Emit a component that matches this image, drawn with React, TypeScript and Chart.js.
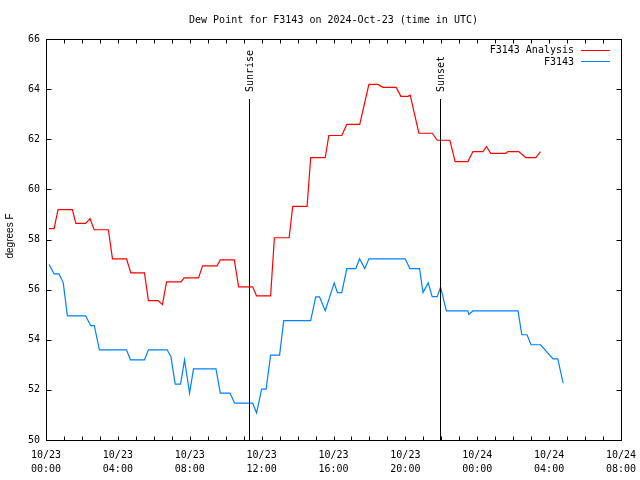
import { useEffect, useRef } from "react";
import { Chart, registerables } from "chart.js";

Chart.register(...registerables);

const MONO = '"DejaVu Sans Mono", monospace';
const SANS = '"Liberation Sans", Arial, sans-serif';

const titleText = "Dew Point for F3143 on 2024-Oct-23 (time in UTC)";
const yAxisTitle = "degrees F";
const analysisLabel = "F3143 Analysis";
const obsLabel = "F3143";

// x values are hours since 10/23 00:00 UTC
const X_MIN = 0;
const X_MAX = 32;
const Y_MIN = 50;
const Y_MAX = 66;
const yTickValues = [50, 52, 54, 56, 58, 60, 62, 64, 66];
const xLabelHours = [0, 4, 8, 12, 16, 20, 24, 28, 32];
const xLabelDates = ["10/23", "10/23", "10/23", "10/23", "10/23", "10/23", "10/24", "10/24", "10/24"];
const xLabelTimes = ["00:00", "04:00", "08:00", "12:00", "16:00", "20:00", "00:00", "04:00", "08:00"];

const sunEventHours = [11.31, 21.94];
const sunEventLabels = ["Sunrise", "Sunset"];

const analysisHours = [0.17, 0.45, 0.67, 1.47, 1.66, 2.21, 2.45, 2.68, 3.47, 3.7, 4.48, 4.72, 5.48, 5.7, 6.24, 6.48, 6.71, 7.51, 7.69, 8.49, 8.71, 9.52, 9.7, 10.48, 10.72, 11.5, 11.72, 12.5, 12.71, 13.53, 13.73, 14.53, 14.73, 15.54, 15.74, 16.46, 16.74, 17.46, 17.97, 18.47, 18.75, 19.49, 19.75, 20.14, 20.27, 20.75, 21.5, 21.77, 22.48, 22.77, 23.48, 23.76, 24.32, 24.51, 24.75, 25.59, 25.71, 26.31, 26.7, 27.26, 27.52];
const analysisValues = [58.43, 58.43, 59.19, 59.19, 58.64, 58.64, 58.83, 58.39, 58.39, 57.23, 57.23, 56.67, 56.67, 55.56, 55.56, 55.4, 56.31, 56.31, 56.47, 56.47, 56.95, 56.95, 57.19, 57.19, 56.11, 56.11, 55.75, 55.75, 58.07, 58.07, 59.32, 59.32, 61.27, 61.27, 62.15, 62.15, 62.59, 62.59, 64.19, 64.19, 64.07, 64.07, 63.71, 63.71, 63.76, 62.24, 62.24, 61.96, 61.96, 61.11, 61.11, 61.51, 61.51, 61.71, 61.44, 61.44, 61.51, 61.51, 61.27, 61.27, 61.51];

const obsHours = [0.17, 0.45, 0.72, 0.96, 1.19, 2.21, 2.49, 2.69, 2.97, 4.48, 4.7, 5.48, 5.7, 6.74, 6.95, 7.19, 7.49, 7.71, 7.99, 8.21, 9.46, 9.7, 10.24, 10.5, 11.5, 11.72, 12.0, 12.25, 12.5, 13.0, 13.23, 14.73, 15.01, 15.22, 15.54, 16.04, 16.22, 16.46, 16.74, 17.24, 17.45, 17.74, 17.97, 19.99, 20.25, 20.79, 20.98, 21.27, 21.49, 21.77, 21.96, 22.28, 23.48, 23.53, 23.76, 26.27, 26.48, 26.77, 26.99, 27.52, 28.22, 28.48, 28.78];
const obsValues = [57.0, 56.63, 56.63, 56.27, 54.95, 54.95, 54.56, 54.56, 53.6, 53.6, 53.2, 53.2, 53.6, 53.6, 53.33, 52.23, 52.23, 53.2, 51.87, 52.84, 52.84, 51.87, 51.87, 51.47, 51.47, 51.08, 52.03, 52.03, 53.39, 53.39, 54.76, 54.76, 55.71, 55.71, 55.16, 56.27, 55.88, 55.88, 56.84, 56.84, 57.23, 56.84, 57.23, 57.23, 56.84, 56.84, 55.88, 56.27, 55.72, 55.72, 56.1, 55.15, 55.15, 55.01, 55.15, 55.15, 54.2, 54.2, 53.8, 53.8, 53.24, 53.24, 52.27];

const RED = "#ff0000";
const BLUE = "#0080ff";

export default function App() {
  const ref = useRef<HTMLCanvasElement>(null);

  useEffect(() => {
    document.body.style.margin = "0";
    const canvas = ref.current;
    if (!canvas) return;

    const overlay = {
      id: "gnuplotOverlay",
      afterDraw(chart: any) {
        const { ctx, chartArea: a, scales } = chart;
        const xs = scales.x;
        const ys = scales.y;
        const L = Math.round(a.left) + 0.5;
        const R = Math.round(a.right) + 0.5;
        const T = Math.round(a.top) + 0.5;
        const B = Math.round(a.bottom) + 0.5;
        const line = (x1: number, y1: number, x2: number, y2: number) => {
          ctx.beginPath();
          ctx.moveTo(x1, y1);
          ctx.lineTo(x2, y2);
          ctx.stroke();
        };
        ctx.save();
        ctx.strokeStyle = "#000";
        ctx.lineWidth = 1;
        // ticks
        for (let h = X_MIN; h <= X_MAX; h += 1) {
          const px = Math.round(xs.getPixelForValue(h)) + 0.5;
          line(px, B, px, B - 4);
          line(px, T, px, T + 4);
        }
        for (const v of yTickValues) {
          const py = Math.round(ys.getPixelForValue(v)) + 0.5;
          line(L, py, L + 5, py);
          line(R, py, R - 5, py);
        }
        // sunrise / sunset
        ctx.fillStyle = "#000";
        ctx.font = `10px ${MONO}`;
        sunEventHours.forEach((h, i) => {
          const px = Math.round(xs.getPixelForValue(h)) + 0.5;
          line(px, 99, px, B);
          ctx.save();
          ctx.translate(px + 1, 92);
          ctx.rotate(-Math.PI / 2);
          ctx.textAlign = "left";
          ctx.textBaseline = "middle";
          ctx.fillText(sunEventLabels[i], 0, 0);
          ctx.restore();
        });
        // border
        ctx.strokeRect(L, T, R - L, B - T);
        // title
        ctx.textAlign = "center";
        ctx.textBaseline = "middle";
        ctx.fillText(titleText, (a.left + a.right) / 2, 20);
        // y axis title
        ctx.save();
        ctx.font = `10px ${SANS}`;
        ctx.translate(10, 236);
        ctx.rotate(-Math.PI / 2);
        ctx.fillText(yAxisTitle, 0, 0);
        ctx.restore();
        // legend
        ctx.textAlign = "right";
        ctx.fillText(analysisLabel, 574, 50);
        ctx.fillText(obsLabel, 574, 62);
        ctx.strokeStyle = RED;
        line(581, 50.5, 610, 50.5);
        ctx.strokeStyle = BLUE;
        line(581, 61.5, 610, 61.5);
        ctx.restore();
      },
    };

    const chart = new Chart(canvas, {
      type: "line",
      data: {
        datasets: [
          {
            label: analysisLabel,
            data: analysisHours.map((h, i) => ({ x: h, y: analysisValues[i] })),
            borderColor: RED,
            borderWidth: 1.2,
            pointRadius: 0,
            tension: 0,
            fill: false,
          },
          {
            label: obsLabel,
            data: obsHours.map((h, i) => ({ x: h, y: obsValues[i] })),
            borderColor: BLUE,
            borderWidth: 1.2,
            pointRadius: 0,
            tension: 0,
            fill: false,
          },
        ],
      },
      options: {
        responsive: false,
        animation: false,
        devicePixelRatio: 1,
        layout: { padding: { top: 39, right: 19, left: 0, bottom: 0 } },
        plugins: {
          legend: { display: false },
          tooltip: { enabled: false },
          title: { display: false },
        },
        scales: {
          x: {
            type: "linear",
            min: X_MIN,
            max: X_MAX,
            grid: { display: false, drawTicks: false },
            border: { display: false },
            ticks: {
              stepSize: 4,
              autoSkip: false,
              maxRotation: 0,
              minRotation: 0,
              padding: 8,
              color: "#000",
              font: { family: MONO, size: 10, lineHeight: 1.4 },
              callback: (v: any) => {
                const idx = xLabelHours.indexOf(Number(v));
                return idx >= 0 ? [xLabelDates[idx], xLabelTimes[idx]] : "";
              },
            },
            afterFit: (s: any) => {
              s.height = 40;
              s.paddingLeft = 0;
              s.paddingRight = 0;
            },
          },
          y: {
            min: Y_MIN,
            max: Y_MAX,
            grid: { display: false, drawTicks: false },
            border: { display: false },
            ticks: {
              stepSize: 2,
              padding: 6,
              color: "#000",
              font: { family: MONO, size: 10 },
            },
            afterFit: (s: any) => {
              s.width = 46;
              s.paddingTop = 0;
              s.paddingBottom = 0;
            },
          },
        },
      },
      plugins: [overlay],
    });

    return () => chart.destroy();
  }, []);

  return (
    <div style={{ position: "fixed", left: 0, top: 0, width: 640, height: 480, background: "#fff" }}>
      <canvas ref={ref} width={640} height={480} />
    </div>
  );
}
